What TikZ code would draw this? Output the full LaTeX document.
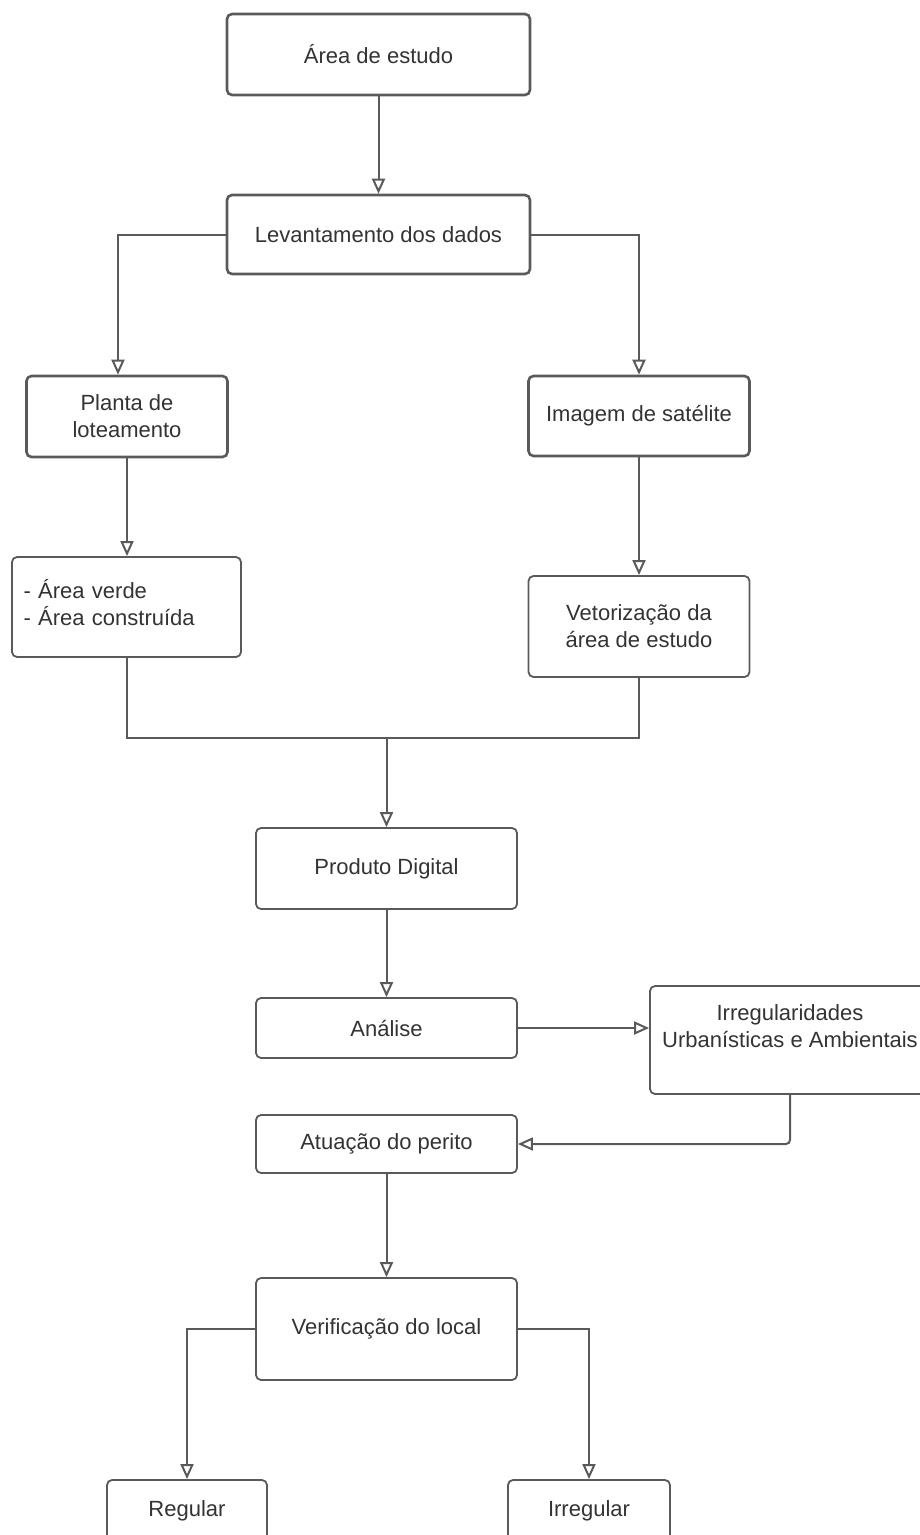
\documentclass[tikz,border=0pt]{standalone}
\usepackage{fontspec}
\setmainfont{Liberation Sans}
\usetikzlibrary{arrows.meta,positioning}
\definecolor{edgegray}{HTML}{5A5A5A}
\definecolor{textgray}{HTML}{333333}
\tikzset{
  box/.style={draw=edgegray,line width=1.8pt,rounded corners=5pt,text=textgray,
    align=center,inner sep=0pt,font=\fontsize{22}{27}\selectfont},
  thickbox/.style={box,line width=2.6pt},
  link/.style={draw=edgegray,line width=2pt},
  flow/.style={link,-{Triangle[open,length=15pt,width=13pt]}}
}
\begin{document}
\begin{tikzpicture}[x=1pt,y=-1pt]
  \useasboundingbox (0,0) rectangle (920,1535);
  \node[thickbox,minimum width=303pt,minimum height=81pt] (area) at (378.5,54.5) {Área de estudo};
  \node[thickbox,minimum width=303pt,minimum height=79pt] (lev) at (378.5,234.5) {Levantamento dos dados};
  \node[thickbox,minimum width=201pt,minimum height=81pt] (planta) at (127,416.5) {Planta de\\loteamento};
  \node[thickbox,minimum width=221pt,minimum height=80pt] (imagem) at (639,416) {Imagem de satélite};
  \node[box,minimum width=229pt,minimum height=100pt,align=left,text width=206pt] (verde) at (126.5,607)
    {- Área verde\\- Área construída\\[-18pt]\mbox{}};
  \node[box,minimum width=221pt,minimum height=101pt] (vetor) at (639,626.5) {Vetorização da\\área de estudo};
  \node[box,minimum width=261pt,minimum height=81pt] (produto) at (386.5,868.5) {Produto Digital};
  \node[box,minimum width=261pt,minimum height=60pt] (analise) at (386.5,1028) {Análise};
  \node[box,minimum width=280pt,minimum height=108pt] (irreg) at (790,1040)
    {Irregularidades\\Urbanísticas e Ambientais\\\mbox{}};
  \node[box,minimum width=261pt,minimum height=58pt] (atuacao) at (386.5,1144) {Atuação do perito};
  \node[box,minimum width=261pt,minimum height=102pt] (verif) at (386.5,1329) {Verificação do local};
  \node[box,minimum width=160pt,minimum height=62pt] (regular) at (187,1511) {Regular};
  \node[box,minimum width=162pt,minimum height=62pt] (irregular) at (589,1511) {Irregular};
  \coordinate (join) at (386.5,738);
  % ligacoes
  \draw[flow] (area) -- (lev);
  \draw[flow] (lev.west) -| ([xshift=-9pt]planta.north);
  \draw[flow] (lev.east) -| (imagem.north);
  \draw[flow] (planta.south) -- (planta.south |- verde.north);
  \draw[flow] (imagem) -- (vetor);
  \draw[link] (verde.south) |- (join) -| (vetor.south);
  \draw[flow] (join) -- (produto);
  \draw[flow] (produto) -- (analise);
  \draw[flow] (analise.east) -- (analise.east -| irreg.west);
  \draw[flow,rounded corners=4pt] (irreg.south) |- (atuacao.east);
  \draw[flow] (atuacao) -- (verif);
  \draw[flow] (verif.west) -| (regular.north);
  \draw[flow] (verif.east) -| (irregular.north);
\end{tikzpicture}
\end{document}
